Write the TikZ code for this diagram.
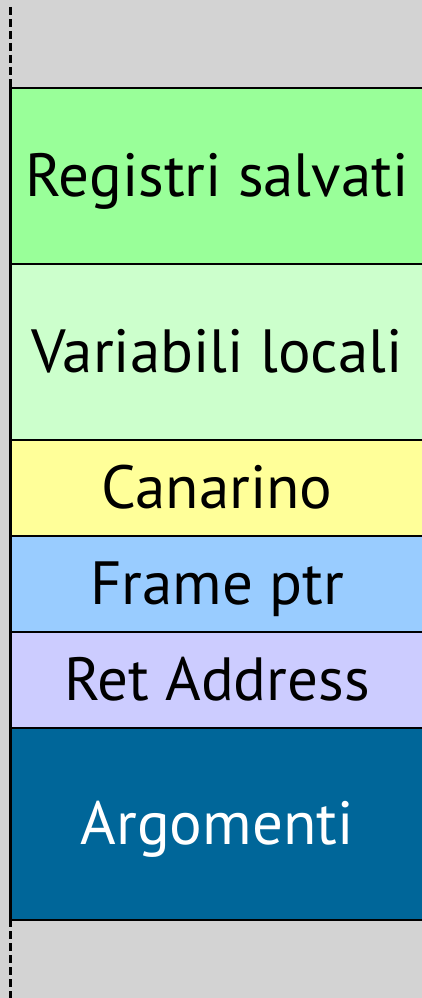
\documentclass[tikz,border=0pt]{standalone}
\usepackage{fontspec}
\setmainfont{PT Sans}
\definecolor{bg}{HTML}{D3D3D3}
\definecolor{cReg}{HTML}{99FF99}
\definecolor{cVar}{HTML}{CCFFCC}
\definecolor{cCan}{HTML}{FFFF99}
\definecolor{cFp}{HTML}{99CCFF}
\definecolor{cRet}{HTML}{CCCCFF}
\definecolor{cArg}{HTML}{006699}
\begin{document}
\begin{tikzpicture}[x=1pt,y=-1pt,
  cell/.style={draw=black,line width=2.5pt},
  lbl/.style={font=\fontsize{61}{66}\selectfont,inner sep=0pt,anchor=base}]
\useasboundingbox (0,0) rectangle (422,998);
\clip (0,0) rectangle (422,998);
\fill[bg] (0,0) rectangle (422,998);
\draw[black,line width=2.2pt,dash pattern=on 8pt off 4pt] (10.5,7) -- (10.5,998);
\filldraw[cell,fill=cReg] (10.5,88) rectangle (430,264);
\filldraw[cell,fill=cVar] (10.5,264) rectangle (430,440);
\filldraw[cell,fill=cCan] (10.5,440) rectangle (430,536);
\filldraw[cell,fill=cFp] (10.5,536) rectangle (430,632);
\filldraw[cell,fill=cRet] (10.5,632) rectangle (430,728);
\filldraw[cell,fill=cArg] (10.5,728) rectangle (430,920);
\node[lbl] (reg) at (217,196) {Registri salvati};
\node[lbl] (var) at (217,372) {Variabili locali};
\node[lbl] (can) at (217,508) {Canarino};
\node[lbl] (fp) at (217,604) {Frame ptr};
\node[lbl] (ret) at (217,700) {Ret Address};
\node[lbl,text=white] (arg) at (217,844) {Argomenti};
\end{tikzpicture}
\end{document}
